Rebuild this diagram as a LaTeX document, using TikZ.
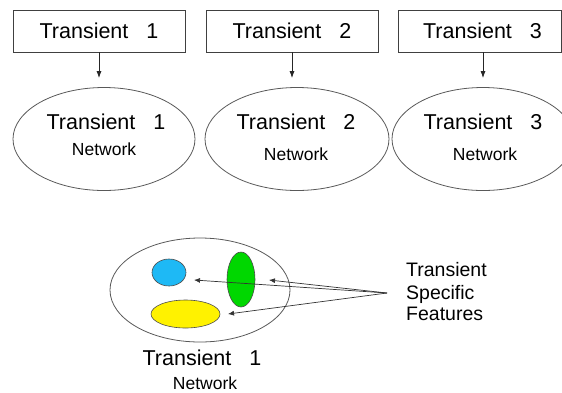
\documentclass[tikz,border=0pt]{standalone}
\usepackage{fontspec}
\setmainfont{Liberation Sans}
\usetikzlibrary{shapes.geometric,arrows.meta}
\definecolor{skyfill}{RGB}{30,185,245}
\definecolor{leaffill}{RGB}{0,215,0}

\begin{document}
\begin{tikzpicture}[x=1pt,y=-1pt]
            \tikzset{trbox/.style={draw=black!75,line width=0.8pt,minimum width=172pt,minimum height=42pt,inner sep=0pt,font=\fontsize{21.5}{24}\selectfont},
              netel/.style={ellipse,draw=black!65,line width=0.8pt,minimum width=182pt,minimum height=103pt,inner sep=0pt},
              bigtxt/.style={inner sep=0pt,font=\fontsize{21.5}{24}\selectfont},
              smalltxt/.style={inner sep=0pt,font=\fontsize{17.5}{20}\selectfont},
              feat/.style={ellipse,draw=black!70,line width=0.6pt,inner sep=0pt},
              down/.style={-{Latex[length=7pt,width=5pt]},draw=black!85,line width=0.8pt,shorten >=9pt},
              point/.style={-{Latex[length=6pt,width=5pt]},draw=black!80,line width=0.7pt}}
            \useasboundingbox (0,0) rectangle (562,392);

            % transients on top
            \node[trbox] (tr1) at (99,31) {Transient\hspace{18pt}1};
            \node[trbox] (tr2) at (292,31) {Transient\hspace{18pt}2};
            \node[trbox,minimum width=163pt] (tr3) at (479.5,31) {\hspace{6pt}Transient\hspace{18pt}3};

            % networks
            \node[netel] (net1) at (104,139) {};
            \node[netel,minimum width=184pt] (net2) at (297,139) {};
            \node[netel] (net3) at (483,139) {};
            \node[bigtxt] (net1a) at (106,121.5) {Transient\hspace{18pt}1};
            \node[smalltxt] (net1b) at (104,149.5) {Network};
            \node[bigtxt] (net2a) at (296,121.5) {Transient\hspace{18pt}2};
            \node[smalltxt] (net2b) at (296,154.5) {Network};
            \node[bigtxt] (net3a) at (483,121.5) {Transient\hspace{18pt}3};
            \node[smalltxt] (net3b) at (485,154.5) {Network};

            \draw[down] (tr1.south) -- (tr1.south |- net1.north);
            \draw[down] (tr2.south) -- (tr2.south |- net2.north);
            \draw[down] (tr3.south -| net3.north) -- (net3.north);

            % one network with its features
            \node[netel,minimum width=180pt,minimum height=104pt] (net) at (200,290) {};
            \node[feat,fill=skyfill,minimum width=34pt,minimum height=27pt] (blue) at (169,272.5) {};
            \node[feat,fill=leaffill,minimum width=28pt,minimum height=55pt] (green) at (241,279.5) {};
            \node[feat,fill=yellow,minimum width=69pt,minimum height=28pt] (yellow) at (185.5,314) {};
            \node[bigtxt] (neta) at (202,358) {Transient\hspace{18pt}1};
            \node[smalltxt] (netb) at (205,383.5) {Network};

            \node[inner sep=0pt,anchor=base west,font=\fontsize{19.5}{22}\selectfont] (ft1) at (406,276) {Transient};
            \node[inner sep=0pt,anchor=base west,font=\fontsize{19.5}{22}\selectfont] (ft2) at (406,299) {Specific};
            \node[inner sep=0pt,anchor=base west,font=\fontsize{19.5}{22}\selectfont] (ft3) at (406,320) {Features};

            \coordinate (src) at (387,293);
            \coordinate (p1) at (194,280);
            \coordinate (p2) at (269,280);
            \coordinate (p3) at (228,314);
            \draw[point] (src) -- (p1);
            \draw[point] (src) -- (p2);
            \draw[point] (src) -- (p3);
          \end{tikzpicture}
\end{document}
